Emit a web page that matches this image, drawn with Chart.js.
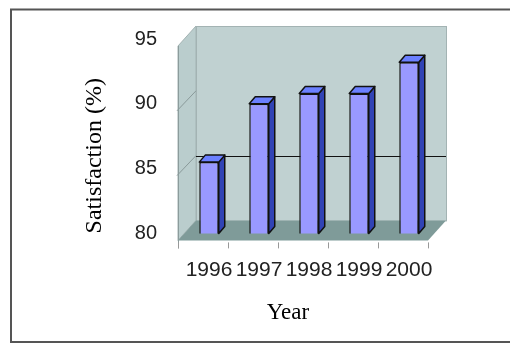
<!DOCTYPE html>
<html><head><meta charset="utf-8">
<script src="https://cdn.jsdelivr.net/npm/chart.js@4/dist/chart.umd.min.js"></script>
<style>html,body{margin:0;padding:0;background:#fff;}#wrap{width:510px;height:345px;position:relative;}</style>
</head><body><div id="wrap"><canvas id="c" width="510" height="345"></canvas></div>
<script>
const categories = ['1996', '1997', '1998', '1999', '2000'];
const satisfaction = [85.5, 90, 90.8, 90.8, 93.2];
const yTicks = [80, 85, 90, 95];
const backGridValues = [85];
const sideGridValues = [85, 90];
const yTitle = 'Satisfaction (%)';
const xTitle = 'Year';

// 3D geometry (style only)
const D = {fx: -6, fy: 7, bx: 12, by: -13, barDx: 6, barDy: -7};

const box3d = {
  id: 'box3d',
  beforeDraw(chart) {
    const ctx = chart.ctx;
    ctx.save();
    ctx.fillStyle = '#fff';
    ctx.fillRect(0, 0, chart.width, chart.height);
    ctx.strokeStyle = '#555';
    ctx.lineWidth = 2;
    ctx.strokeRect(11, 9.5, 520, 332.5);
    ctx.restore();
  },
  beforeDatasetsDraw(chart) {
    const {ctx, chartArea: a, scales: {x, y}} = chart;
    const L = a.left + D.fx, R = a.right + D.fx, T = a.top + D.fy, B = a.bottom + D.fy;
    const L2 = a.left + D.bx, R2 = a.right + D.bx, T2 = a.top + D.by, B2 = a.bottom + D.by;
    ctx.save();
    // back wall
    ctx.fillStyle = '#c0d1d1';
    ctx.fillRect(L2, T2, R2 - L2, B2 - T2);
    ctx.strokeStyle = '#a3b3b3';
    ctx.lineWidth = 1;
    ctx.strokeRect(L2 + 0.5, T2 + 0.5, R2 - L2, B2 - T2);
    // left wall
    ctx.beginPath();
    ctx.moveTo(L, T); ctx.lineTo(L2, T2); ctx.lineTo(L2, B2); ctx.lineTo(L, B); ctx.closePath();
    ctx.fillStyle = '#bacdcd';
    ctx.fill();
    ctx.strokeStyle = '#a3b3b3';
    ctx.stroke();
    // floor
    ctx.beginPath();
    ctx.moveTo(L, B); ctx.lineTo(R, B); ctx.lineTo(R2, B2); ctx.lineTo(L2, B2); ctx.closePath();
    ctx.fillStyle = '#7f9b99';
    ctx.fill();
    // left wall front edge
    ctx.strokeStyle = '#8c9c9c';
    ctx.beginPath(); ctx.moveTo(L + 0.5, T); ctx.lineTo(L + 0.5, B + 8); ctx.stroke();
    // side grid diagonals
    ctx.strokeStyle = '#8a9a9a';
    sideGridValues.forEach(v => {
      const p = y.getPixelForValue(v);
      ctx.beginPath(); ctx.moveTo(L - 1, p + D.fy); ctx.lineTo(L2, p + D.by); ctx.stroke();
    });
    // back wall gridline
    ctx.strokeStyle = '#111';
    ctx.lineWidth = 1.2;
    backGridValues.forEach(v => {
      const p = Math.round(y.getPixelForValue(v) + D.by) + 0.5;
      ctx.beginPath(); ctx.moveTo(L2, p); ctx.lineTo(R2, p); ctx.stroke();
    });
    // x tick marks below front floor edge
    ctx.strokeStyle = '#999';
    ctx.lineWidth = 1;
    const step = x.getPixelForValue(1) - x.getPixelForValue(0);
    for (let i = 0; i <= categories.length; i++) {
      const xp = Math.round(x.getPixelForValue(0) - step / 2 + i * step + D.fx) + 0.5;
      ctx.beginPath(); ctx.moveTo(xp, B + 2); ctx.lineTo(xp, B + 8); ctx.stroke();
    }
    ctx.restore();
  },
  afterDatasetsDraw(chart) {
    const ctx = chart.ctx;
    const yScale = chart.scales.y;
    const base = yScale.getPixelForValue(yScale.min);
    const meta = chart.getDatasetMeta(0);
    ctx.save();
    ctx.lineWidth = 1.5;
    ctx.strokeStyle = '#111';
    ctx.lineJoin = 'round';
    meta.data.forEach(bar => {
      const x = bar.x, y = bar.y, width = bar.width;
      const l = x - width / 2, r = x + width / 2;
      // side
      ctx.beginPath();
      ctx.moveTo(r, y); ctx.lineTo(r + D.barDx, y + D.barDy); ctx.lineTo(r + D.barDx, base + D.barDy); ctx.lineTo(r, base); ctx.closePath();
      ctx.fillStyle = '#3143b5';
      ctx.fill(); ctx.stroke();
      // top
      ctx.beginPath();
      ctx.moveTo(l, y); ctx.lineTo(l + D.barDx, y + D.barDy); ctx.lineTo(r + D.barDx, y + D.barDy); ctx.lineTo(r, y); ctx.closePath();
      ctx.fillStyle = '#6b80ff';
      ctx.fill(); ctx.stroke();
    });
    ctx.restore();
  }
};

new Chart(document.getElementById('c'), {
  type: 'bar',
  data: {
    labels: categories,
    datasets: [{
      data: satisfaction,
      backgroundColor: '#9999ff',
      borderColor: '#111',
      borderWidth: 1.5,
      borderSkipped: false,
      barPercentage: 0.39,
      categoryPercentage: 1
    }]
  },
  options: {
    responsive: false,
    animation: false,
    devicePixelRatio: 1,
    layout: {padding: {left: 66, right: 0, top: 35, bottom: 8}},
    scales: {
      x: {
        grid: {display: false, drawTicks: false},
        border: {display: false},
        ticks: {font: {family: 'Liberation Sans', size: 21}, color: '#222', padding: 24, maxRotation: 0, autoSkip: false},
        afterFit(s) { s.height = 50; }
      },
      y: {
        min: 80, max: 95,
        afterBuildTicks(s) { s.ticks = yTicks.map(v => ({value: v})); },
        grid: {display: false, drawTicks: false},
        border: {display: false},
        ticks: {font: {family: 'Liberation Sans', size: 20}, color: '#222', padding: 27},
        title: {display: true, text: yTitle, align: 'start', color: '#000',
          font: {family: 'Liberation Serif', size: 24, weight: 'normal'}, padding: {top: 14, bottom: 0}},
        afterFit(s) { s.width = 118; }
      },
      spacer: {
        position: 'right',
        grid: {display: false, drawTicks: false},
        border: {display: false},
        ticks: {display: false},
        afterFit(s) { s.width = 76; }
      }
    },
    plugins: {
      legend: {display: false},
      tooltip: {enabled: false},
      title: {display: true, text: xTitle, position: 'bottom', color: '#000',
        font: {family: 'Liberation Serif', size: 23, weight: 'normal'}, padding: {top: 16, bottom: 10}}
    }
  },
  plugins: [box3d]
});
</script>
</body></html>
